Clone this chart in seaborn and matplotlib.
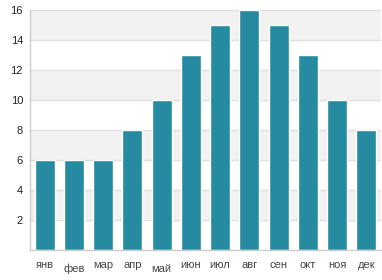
import pandas as pd
import seaborn as sns
import matplotlib.pyplot as plt
import matplotlib.transforms as mtransforms

sns.set_theme(style='white')
plt.rcParams['font.family'] = ['Liberation Sans', 'DejaVu Sans']

months = ['янв', 'фев', 'мар', 'апр', 'май', 'июн', 'июл', 'авг', 'сен', 'окт', 'ноя', 'дек']
values = [6, 6, 6, 8, 10, 13, 15, 16, 15, 13, 10, 8]
df = pd.DataFrame({'month': months, 'value': values})

fig = plt.figure(figsize=(3.82, 2.80), dpi=100)
ax = fig.add_axes([30/382, 30/280, 351/382, 240/280])

# alternating background bands
for lo in [2, 6, 10, 14]:
    ax.axhspan(lo, lo + 2, color='#f2f2f2', zorder=0, lw=0)
for y in range(2, 17, 2):
    ax.axhline(y, color='#e0e0e0', lw=1, zorder=1)

sns.barplot(data=df, x='month', y='value', color='#268ba0', saturation=1,
            width=0.68, edgecolor='white', linewidth=1, ax=ax, zorder=2)

ax.set_xlim(-0.5, 11.5)
ax.set_ylim(0, 16)
ax.set_yticks(range(2, 17, 2))
ax.set_xlabel('')
ax.set_ylabel('')
ax.tick_params(axis='both', length=0, labelsize=8, colors='#444444')
ax.tick_params(axis='x', pad=7)
ax.tick_params(axis='y', pad=5, labelcolor='#222222')
for s in ['top', 'right']:
    ax.spines[s].set_visible(False)
for s in ['left', 'bottom']:
    ax.spines[s].set_color('#cccccc')
    ax.spines[s].set_linewidth(1)

# the two taller labels sit a little lower in the original
for lab in ax.get_xticklabels():
    if lab.get_text() in ('фев', 'май'):
        lab.set_transform(lab.get_transform() + mtransforms.ScaledTranslation(0, -4/100, fig.dpi_scale_trans))

fig.savefig('out.png', dpi=100)
